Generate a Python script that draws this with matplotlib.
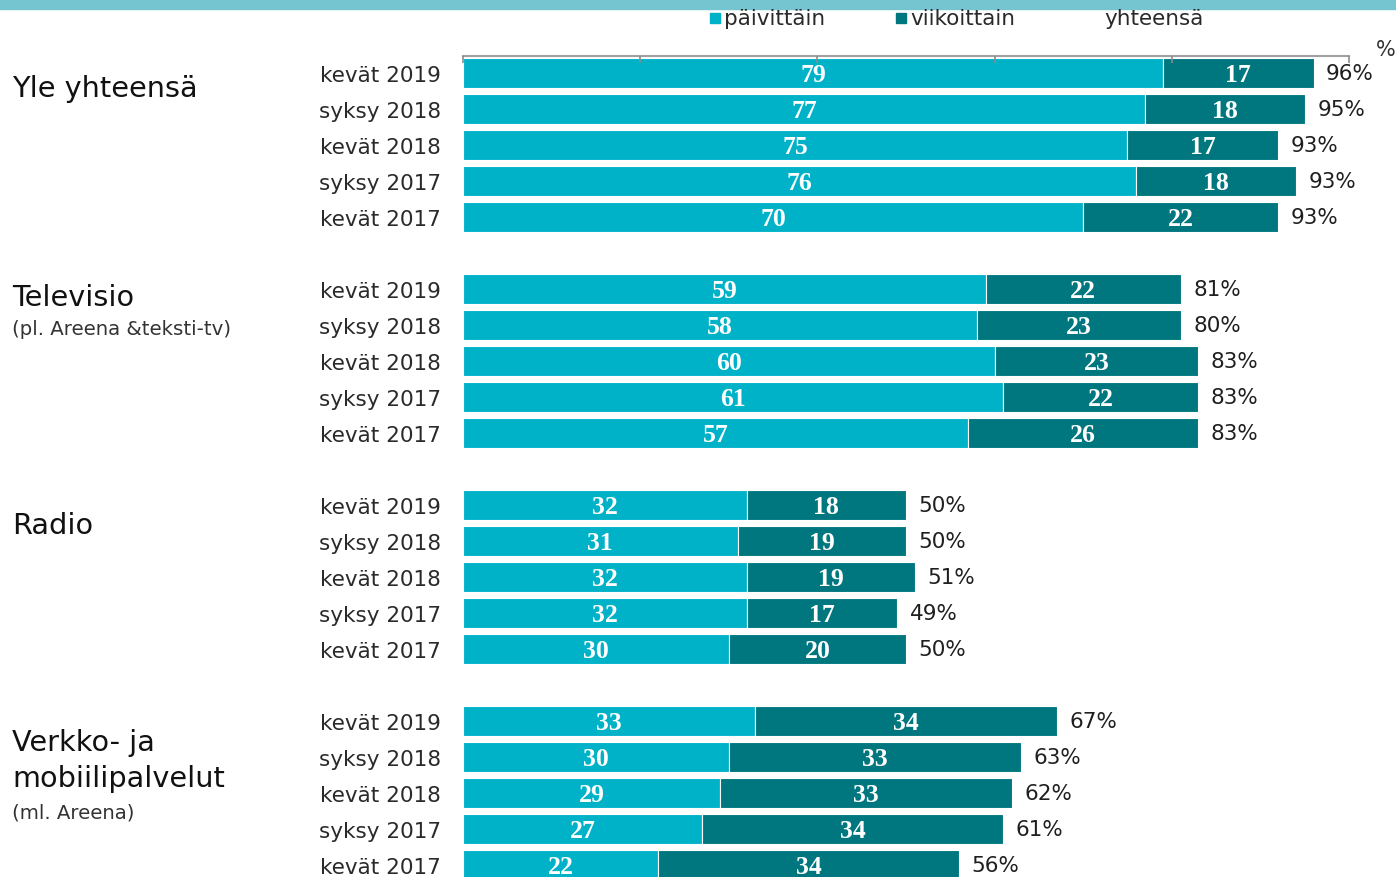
import matplotlib
matplotlib.use("Agg")
import matplotlib.pyplot as plt
from matplotlib.patches import Rectangle
import numpy as np

# ---- data ----
periods = ["kevät 2019", "syksy 2018", "kevät 2018", "syksy 2017", "kevät 2017"]
groups = ["Yle yhteensä", "Televisio", "Radio", "Verkko- ja\nmobiilipalvelut"]
subtitles = ["", "(pl. Areena &teksti-tv)", "", "(ml. Areena)"]

daily_yle = [79, 77, 75, 76, 70]
weekly_yle = [17, 18, 17, 18, 22]
total_yle = [96, 95, 93, 93, 93]

daily_tv = [59, 58, 60, 61, 57]
weekly_tv = [22, 23, 23, 22, 26]
total_tv = [81, 80, 83, 83, 83]

daily_radio = [32, 31, 32, 32, 30]
weekly_radio = [18, 19, 19, 17, 20]
total_radio = [50, 50, 51, 49, 50]

daily_web = [33, 30, 29, 27, 22]
weekly_web = [34, 33, 33, 34, 34]
total_web = [67, 63, 62, 61, 56]

legend_labels = ["päivittäin", "viikoittain", "yhteensä"]

daily = [daily_yle, daily_tv, daily_radio, daily_web]
weekly = [weekly_yle, weekly_tv, weekly_radio, weekly_web]
totals = [total_yle, total_tv, total_radio, total_web]

# ---- style ----
C_DAILY = "#00B2C8"
C_WEEKLY = "#00777F"
C_BAND = "#74C5CF"
C_TEXT = "#1f1f1f"
FONT = "DejaVu Sans"

W, H = 1396, 878
fig = plt.figure(figsize=(W / 100, H / 100), dpi=100)
fig.patch.set_facecolor("white")

# top band
fig.add_artist(Rectangle((0, 1 - 10 / H), 1, 10 / H, transform=fig.transFigure,
                         color=C_BAND, zorder=0))

ax_left, ax_right, ax_top_px = 463, 1349, 57
ax = fig.add_axes([ax_left / W, 0, (ax_right - ax_left) / W, (H - ax_top_px) / H])

row_px0, row_step = 74, 36
y_top = -(row_px0 - ax_top_px) / row_step
y_bot = (H - row_px0) / row_step

positions, labels = [], []
for g in range(len(groups)):
    base = g * 6
    for i in range(len(periods)):
        p = base + i
        positions.append(p)
        labels.append(periods[i])
        d, w, t = daily[g][i], weekly[g][i], totals[g][i]
        ax.barh(p, d, height=0.82, color=C_DAILY, edgecolor="white", linewidth=0.8, zorder=1)
        ax.barh(p, w, left=d, height=0.82, color=C_WEEKLY, edgecolor="white", linewidth=0.8, zorder=1)
        ax.text(d / 2, p + 0.04, f"{d}", ha="center", va="center", color="white",
                fontsize=18.5, fontweight="bold", family="Liberation Serif", zorder=3)
        ax.text(d + w / 2, p + 0.04, f"{w}", ha="center", va="center", color="white",
                fontsize=18.5, fontweight="bold", family="Liberation Serif", zorder=3)
        ax.annotate(f"{t}%", xy=(d + w, p), xytext=(9, 0), textcoords="offset points",
                    ha="left", va="center", color=C_TEXT, fontsize=15.5, family=FONT)

ax.set_xlim(0, 100)
ax.set_ylim(y_bot, y_top)
ax.set_yticks(positions)
ax.set_yticklabels(labels, fontsize=15.5, family=FONT, color="#2a2a2a")
ax.tick_params(axis="y", length=0, pad=16)
ax.xaxis.tick_top()
ax.set_xticks(np.arange(0, 101, 20))
ax.set_xticklabels([])
ax.tick_params(axis="x", direction="in", length=5, color="#8c8c8c", width=1.2)
ax.set_axisbelow(False)
ax.xaxis.set_zorder(5)
for s in ["left", "right", "bottom"]:
    ax.spines[s].set_visible(False)
ax.spines["top"].set_color("#a0a0a0")
ax.spines["top"].set_linewidth(1.5)
ax.spines["top"].set_zorder(5)
ax.set_facecolor("none")

# group titles
title_px = [89, 298, 526, 761]
sub_px = [None, 330, None, 813]
for g in range(len(groups)):
    fig.text(12 / W, 1 - title_px[g] / H, groups[g], ha="left", va="center",
             fontsize=20.7, family=FONT, color="#111111", linespacing=1.32)
    if subtitles[g]:
        fig.text(12 / W, 1 - sub_px[g] / H, subtitles[g], ha="left", va="center",
                 fontsize=14.2, family=FONT, color="#333333")

# legend (manual)
leg_y = 1 - 19 / H
sq = 10
for x0, col, lab in [(710, C_DAILY, legend_labels[0]), (896, C_WEEKLY, legend_labels[1]),
                     (1090, None, legend_labels[2])]:
    if col is not None:
        fig.add_artist(Rectangle((x0 / W, leg_y - (sq / 2) / H), sq / W, sq / H,
                                 transform=fig.transFigure, color=col))
    fig.text((x0 + 14) / W, leg_y, lab, ha="left", va="center", fontsize=15.5,
             family=FONT, color="#2a2a2a")

fig.text(1386 / W, 1 - 50 / H, "%", ha="center", va="center", fontsize=15,
         family=FONT, color="#333333")

fig.savefig("out.png", dpi=100, facecolor="white")
